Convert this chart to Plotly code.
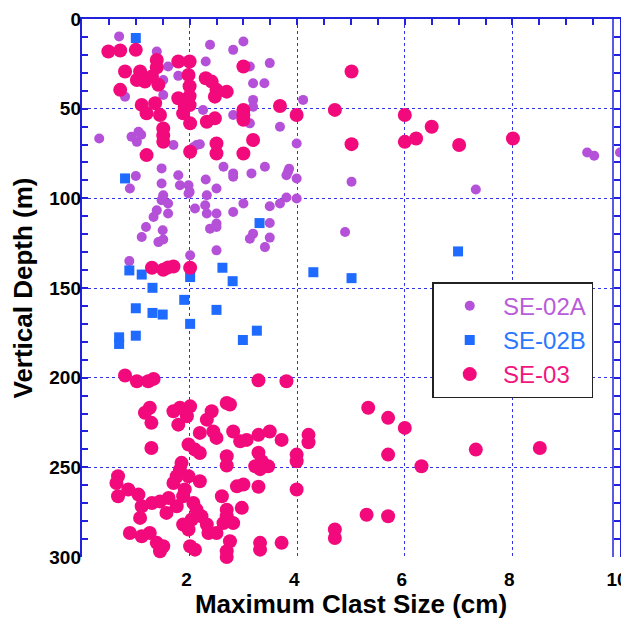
import plotly.graph_objects as go

# ---------------- data (Maximum clast size in cm, vertical depth in m) ----------------
se02a_size = [0.69, 1.39, 1.60, 1.79, 1.51, 1.51, 0.80, 2.30, 2.38, 2.81, 3.00, 3.18, 3.18, 3.18,
              2.25, 2.81, 0.32, 0.92, 1.05, 1.10, 1.02, 1.70, 2.13, 2.07, 2.63, 2.81, 2.81, 3.15,
              1.48, 1.00, 0.89, 1.48, 1.79, 1.82, 1.98, 2.00, 2.30, 2.32, 2.50, 1.51, 3.49, 3.12,
              3.39, 4.11, 3.68, 3.99, 5.01, 3.40, 3.83, 3.85, 3.80, 3.99, 2.19, 3.80, 3.99, 3.12,
              7.32, 9.39, 9.52, 10.0, 1.48, 1.60, 1.39, 1.33, 1.60, 1.19, 1.11, 1.50, 1.42, 1.51,
              1.98, 2.10, 2.29, 2.32, 2.50, 2.50, 2.50, 2.38, 2.81, 3.00, 2.50, 2.01, 0.88, 3.18,
              3.12, 3.49, 3.68, 3.49, 3.49, 3.40, 4.89]
se02a_depth = [9.7, 18.1, 26.5, 31.7, 34.0, 42.4, 43.3, 23.7, 14.4, 17.2, 12.5, 35.8, 45.1, 48.9,
               50.7, 53.5, 66.6, 65.7, 62.9, 64.5, 68.5, 70.3, 70.3, 71.5, 82.4, 86.1, 88.0, 86.1,
               83.3, 87.5, 94.5, 91.7, 87.1, 92.7, 92.7, 96.4, 89.5, 98.3, 94.5, 98.3, 24.6, 26.5,
               35.8, 45.1, 60.1, 69.4, 90.8, 82.4, 85.2, 83.5, 87.1, 88.9, 69.8, 99.5, 100.1, 58.2,
               95.1, 74.4, 76.3, 74.4, 101.0, 102.9, 106.7, 110.4, 108.5, 116.0, 121.6, 117.8, 124.4, 123.0,
               97.3, 105.7, 103.9, 108.5, 108.5, 114.1, 116.0, 116.9, 107.6, 102.9, 129.0, 131.8, 135.0, 119.7,
               122.5, 104.4, 102.9, 113.8, 121.9, 127.2, 118.8]

se02b_size = [1.00, 0.80, 0.88, 1.11, 1.31, 2.01, 1.90, 1.00, 1.31, 1.50, 2.01, 2.50, 2.61, 2.80,
              1.00, 0.69, 0.69, 2.99, 3.25, 3.30, 4.30, 5.01, 6.99]
se02b_depth = [10.6, 88.9, 140.2, 142.5, 149.9, 143.9, 156.6, 161.3, 163.9, 164.8, 170.0, 162.2, 138.7, 146.2,
               176.6, 177.5, 181.2, 179.0, 173.8, 113.8, 141.2, 144.5, 129.6]

se03_size = [0.49, 0.71, 1.00, 0.80, 1.08, 1.02, 1.17, 1.39, 1.39, 1.30, 1.42, 0.71, 1.11, 1.20,
             1.36, 1.45, 1.51, 1.51, 1.51, 1.20, 1.79, 2.00, 1.98, 2.00, 2.00, 1.79, 1.91, 1.88,
             2.00, 2.01, 2.01, 2.41, 2.50, 2.47, 2.69, 2.32, 2.47, 2.50, 2.50, 3.00, 3.00, 3.00,
             3.00, 3.18, 2.30, 5.01, 3.68, 3.99, 4.70, 3.00, 5.01, 6.00, 6.00, 6.21, 6.50, 7.01,
             8.01,
             1.30, 1.51, 1.70, 1.60, 2.01,
             0.80, 1.02, 1.23, 1.33, 3.28, 3.80, 1.26, 1.17, 1.29, 1.29, 1.70, 1.82, 2.01, 1.79,
             1.95, 2.41, 2.69, 2.32, 2.19, 2.44, 2.50, 2.81, 2.94, 3.06, 3.28, 3.49, 3.71, 2.75,
             1.98, 2.10, 2.19, 2.69, 2.69, 3.28, 3.34, 3.22, 3.46, 3.31, 4.21, 4.21, 3.99, 3.99,
             3.99, 5.32, 5.69, 6.00, 5.69, 6.31, 7.32, 8.51, 1.85, 1.82, 1.76, 1.70, 1.98, 2.19,
             1.91, 1.88, 0.67, 0.64, 0.67, 0.86, 1.05, 1.11, 1.08, 1.30, 1.45, 1.61, 1.57, 1.76,
             2.07, 2.13, 2.22, 2.32, 2.35, 2.04, 1.88, 1.98, 2.60, 2.69, 2.69, 2.63, 2.50, 2.75,
             2.69, 2.69, 2.97, 2.88, 3.00, 3.28, 0.89, 1.11, 1.26, 1.39, 1.51, 1.45, 2.01, 2.10,
             2.19, 3.31, 3.31, 3.71, 5.29, 5.69, 4.70, 4.70, 2.81]
se03_depth = [18.1, 17.6, 17.2, 29.3, 29.3, 34.0, 34.9, 22.8, 27.0, 32.1, 36.7, 39.5, 47.9, 52.6,
              47.0, 53.5, 61.0, 65.0, 68.5, 75.9, 23.7, 23.7, 31.2, 37.5, 43.0, 44.2, 48.9, 52.6,
              48.0, 58.2, 74.0, 34.9, 39.5, 43.3, 40.5, 57.3, 55.4, 69.4, 75.0, 26.5, 50.7, 56.2,
              75.0, 67.5, 33.0, 29.3, 48.5, 53.5, 50.7, 53.5, 69.8, 53.5, 68.5, 66.6, 60.1, 70.3,
              66.6,
              138.7, 139.8, 138.0, 138.5, 138.7,
              198.8, 202.0, 202.0, 200.7, 201.5, 202.0, 216.8, 219.6, 225.2, 239.2, 218.7, 216.8, 216.0, 226.2,
              221.5, 218.7, 214.1, 223.4, 230.8, 230.0, 233.6, 230.0, 235.5, 234.7, 231.9, 230.0, 234.7, 215.0,
              237.3, 240.1, 242.0, 243.8, 249.0, 241.9, 246.6, 249.4, 249.4, 251.0, 231.9, 236.0, 242.9, 246.6,
              262.4, 216.8, 222.4, 228.0, 242.9, 249.4, 240.1, 239.2, 247.5, 251.3, 255.0, 258.7, 255.0, 257.8,
              262.4, 266.1, 255.0, 258.7, 266.1, 262.4, 265.2, 271.7, 278.2, 269.9, 269.0, 267.1, 275.4, 271.7,
              269.9, 273.6, 277.3, 281.9, 286.6, 279.1, 281.9, 284.7, 266.1, 273.6, 277.3, 281.1, 286.6, 291.2,
              296.8, 300.0, 272.6, 260.6, 259.6, 260.8, 286.6, 288.4, 286.6, 292.1, 294.0, 296.8, 294.0, 295.9,
              300.5, 292.1, 295.9, 292.1, 276.4, 277.3, 284.7, 289.4, 281.1]

x_tick_vals = [2, 4, 6, 8, 10]
x_tick_text = ["2", "4", "6", "8", "10"]
y_tick_vals = [0, 50, 100, 150, 200, 250, 300]
y_tick_text = ["0", "50", "100", "150", "200", "250", "300"]

# ---------------- styles ----------------
C_A = "#B550D8"
C_B = "#1F6BFF"
C_C = "#F20A7C"
AXIS = "#2222DD"
GRID = "#3333E6"
FONT = "Liberation Sans, Arial, sans-serif"
PAD = "&nbsp;&nbsp;"

fig = go.Figure()

fig.add_trace(go.Scatter(
    x=se02a_size, y=se02a_depth, mode="markers",
    name=PAD + '<span style="color:#B85CDA">SE-02A</span>',
    marker=dict(symbol="circle", size=10, color=C_A),
    cliponaxis=False,
))
fig.add_trace(go.Scatter(
    x=se02b_size, y=se02b_depth, mode="markers",
    name=PAD + '<span style="color:#2A78FF">SE-02B</span>',
    marker=dict(symbol="square", size=10, color=C_B),
    cliponaxis=False,
))
fig.add_trace(go.Scatter(
    x=se03_size, y=se03_depth, mode="markers",
    name=PAD + '<span style="color:#F2157F">SE-03</span>',
    marker=dict(symbol="circle", size=14, color=C_C),
    cliponaxis=False,
))
# invisible copy on the frame axes (top x / tick-only y) so the frame with its ticks is drawn
fig.add_trace(go.Scatter(x=se03_size, y=se03_depth, xaxis="x2", yaxis="y2", mode="markers",
                         marker=dict(opacity=0), showlegend=False, hoverinfo="skip"))

# page body has an 8px default margin, so the figure is sized to fit the window
fig.update_layout(
    width=621, height=611,
    margin=dict(l=74, r=9, t=11, b=62, autoexpand=False),
    paper_bgcolor="white", plot_bgcolor="white",
    font=dict(family=FONT, color="black"),
    showlegend=True,
    legend=dict(
        x=0.651, y=0.511, xanchor="left", yanchor="top",
        bgcolor="white", bordercolor="#222222", borderwidth=1.5,
        font=dict(family=FONT, size=24),
        itemsizing="trace",
        indentation=16,
        tracegroupgap=0,
    ),
    # bottom axis: dotted grid + labels
    xaxis=dict(
        range=[0, 10], automargin=False,
        tickmode="array", tickvals=x_tick_vals, ticktext=x_tick_text,
        showgrid=True, gridcolor=GRID, griddash="dot", gridwidth=1,
        showline=False, zeroline=False,
        ticks="outside", ticklen=5, tickcolor="rgba(0,0,0,0)",
        ticklabelshift=-3,
        tickfont=dict(family=FONT, size=19, weight="bold", color="black"),
        title=dict(text="Maximum Clast Size (cm)", standoff=10,
                   font=dict(family=FONT, size=26, weight="bold", color="black")),
    ),
    # left axis: dotted grid + labels
    yaxis=dict(
        range=[300, 0], automargin=False,
        tickmode="array", tickvals=y_tick_vals, ticktext=y_tick_text,
        showgrid=True, gridcolor=GRID, griddash="dot", gridwidth=1,
        zeroline=False, showline=False, ticks="",
        tickfont=dict(family=FONT, size=19, weight="bold", color="black"),
        title=dict(text="Vertical Depth (m)", standoff=16,
                   font=dict(family=FONT, size=26, weight="bold", color="black")),
    ),
    # top frame with inside ticks every 0.5
    xaxis2=dict(
        range=[0, 10], overlaying="x", side="top", anchor="y2", automargin=False,
        showgrid=False, zeroline=False, showticklabels=False,
        showline=True, linecolor=AXIS, linewidth=2,
        ticks="inside", ticklen=6, tickwidth=1.5, tickcolor=AXIS,
        tickmode="linear", tick0=0, dtick=0.5,
    ),
    # left/right frame with inside ticks every 10
    yaxis2=dict(
        range=[300, 0], overlaying="y", side="left", anchor="x2", automargin=False,
        showgrid=False, zeroline=False, showticklabels=False,
        showline=True, linecolor=AXIS, linewidth=2, mirror="ticks",
        ticks="inside", ticklen=6, tickwidth=1.5, tickcolor=AXIS,
        tickmode="linear", tick0=0, dtick=10,
    ),
)

# inner right frame line seen in the original
fig.add_shape(type="line", xref="paper", yref="paper", x0=0.987, x1=0.987, y0=0, y1=1,
              line=dict(color=AXIS, width=1.5))

fig.write_html("out.html")
